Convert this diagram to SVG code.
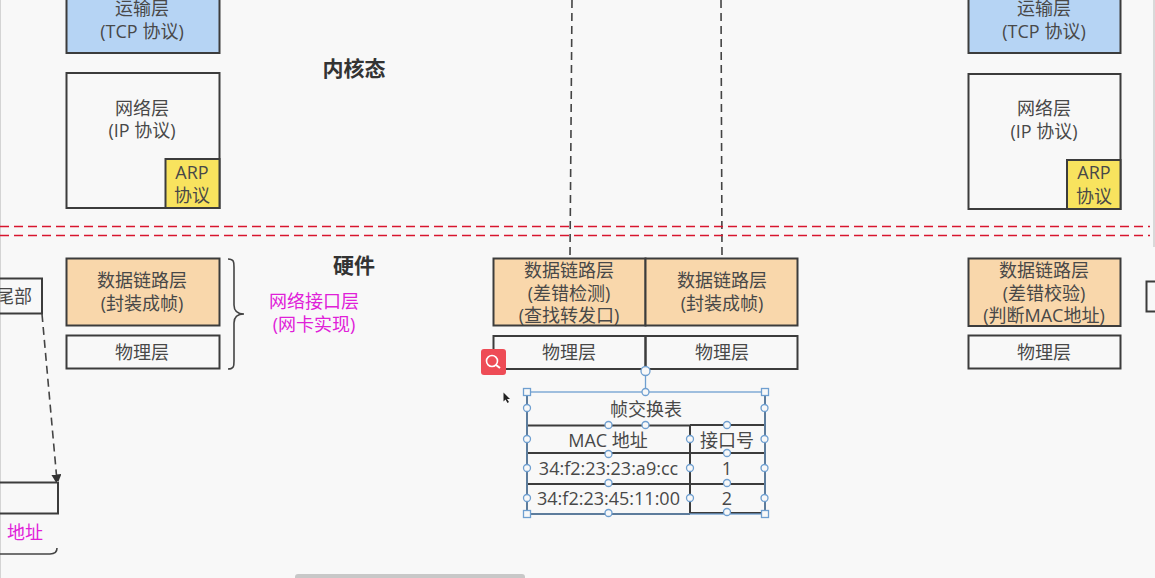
<svg xmlns="http://www.w3.org/2000/svg" width="1155" height="578" viewBox="0 0 1155 578">
<defs>
<marker id="arr" markerWidth="7" markerHeight="10" refX="6.5" refY="5" orient="auto" markerUnits="userSpaceOnUse"><path d="M0 0L10 5L0 10Z" fill="#333"/></marker>
</defs>
<style>
text{font-family:"Open Sans","Noto Sans CJK SC",sans-serif;font-size:18px;fill:#484848;text-anchor:middle}
.box{stroke:#3c3c3c;stroke-width:2;fill:none}
.o{fill:#f9d7ab}.b{fill:#b6d4f4}.y{fill:#f8e35e}
text.m{fill:#e020d8}
text.bold{font-weight:700;font-size:21px;fill:#333}
.dash{stroke:#444;stroke-width:1.6;stroke-dasharray:8 5;fill:none}
.red{stroke:#d8152e;stroke-width:1.6;stroke-dasharray:9 5;fill:none}
.brace{stroke:#444;stroke-width:1.6;fill:none}
.sel{stroke:#6f9fd0;stroke-width:1.3;fill:#f8f8f8}
.tl{stroke:#3c3c3c;stroke-width:2;fill:none}
</style>
<rect width="1155" height="578" fill="#f8f8f8"/>
<path d="M0.5 0V578" stroke="#d4d4d4" stroke-width="1"/>
<path d="M1154 0V247" stroke="#cfcfcf" stroke-width="1.5"/>
<g id="connectors">
<path class="dash" d="M572 0L570 256"/>
<path class="dash" d="M721 0L722 256"/>
<path class="red" d="M0 226.500H1150"/>
<path class="red" d="M0 235.500H1150"/>
<path class="dash" d="M42 314L57 481" marker-end="url(#arr)"/>
<path class="brace" d="M228 259c6 0 6 3 6 8v38c0 6 3 9 10 9c-7 0-10 3-10 9v38c0 5 0 8-6 8"/>
<path class="brace" d="M0 554H50c5 0 7-2 7-6"/>
</g>
<g id="left-transport"><rect class="box b" x="66.500" y="-10" width="153" height="63"/><text x="142" y="15">运输层</text><text x="142" y="38">(TCP 协议)</text></g>
<g id="left-network"><rect class="box" x="66.500" y="73" width="153" height="135"/><text x="142" y="115">网络层</text><text x="142" y="137">(IP 协议)</text></g>
<g id="left-arp"><rect class="box y" x="165.500" y="159" width="54" height="49"/><text x="192" y="179">ARP</text><text x="192" y="202">协议</text></g>
<g id="kernel"><text class="bold" x="354" y="76">内核态</text></g>
<g id="hardware"><text class="bold" x="354" y="273">硬件</text></g>
<g id="left-tail"><rect class="box" x="-20" y="278.500" width="62" height="35"/><text x="14" y="303">尾部</text></g>
<g id="left-link"><rect class="box o" x="66.500" y="258.500" width="153" height="67"/><text x="142" y="287">数据链路层</text><text x="142" y="310">(封装成帧)</text></g>
<g id="left-phy"><rect class="box" x="66.500" y="335.500" width="153" height="33"/><text x="142" y="359">物理层</text></g>
<g id="netif"><text class="m" x="314" y="308">网络接口层</text><text class="m" x="314" y="331">(网卡实现)</text></g>
<g id="bottom-left"><rect class="box" x="-20" y="482.500" width="78" height="31"/><text class="m" x="25" y="539">地址</text></g>
<g id="sw-link-1"><rect class="box o" x="493.500" y="258.500" width="152" height="67"/><text x="569" y="277">数据链路层</text><text x="569" y="300">(差错检测)</text><text x="569" y="322">(查找转发口)</text></g>
<g id="sw-link-2"><rect class="box o" x="645.500" y="258.500" width="152" height="67"/><text x="722" y="287">数据链路层</text><text x="722" y="310">(封装成帧)</text></g>
<g id="sw-phy-1"><rect class="box" x="493.500" y="336" width="152" height="33"/><text x="569" y="359">物理层</text></g>
<g id="sw-phy-2"><rect class="box" x="645.500" y="336" width="152" height="33"/><text x="722" y="359">物理层</text></g>
<g id="right-transport"><rect class="box b" x="968.500" y="-10" width="152" height="63"/><text x="1044" y="15">运输层</text><text x="1044" y="38">(TCP 协议)</text></g>
<g id="right-network"><rect class="box" x="968.500" y="74" width="152" height="135"/><text x="1044" y="115">网络层</text><text x="1044" y="138">(IP 协议)</text></g>
<g id="right-arp"><rect class="box y" x="1067" y="160" width="53.500" height="49"/><text x="1094" y="179">ARP</text><text x="1094" y="203">协议</text></g>
<g id="right-link"><rect class="box o" x="968.500" y="258.500" width="152" height="67.500"/><text x="1044" y="277">数据链路层</text><text x="1044" y="300">(差错校验)</text><text x="1044" y="322">(判断MAC地址)</text></g>
<g id="right-phy"><rect class="box" x="968.500" y="335.500" width="152" height="33"/><text x="1044" y="359">物理层</text></g>
<g id="right-edge"><path class="box" d="M1155 281.500H1146.500V311.500H1155"/></g>
<g id="search-icon"><rect x="481" y="349" width="25" height="26" rx="3" fill="#ee4c56"/><circle cx="492" cy="361" r="5.500" fill="none" stroke="#fff" stroke-width="1.600"/><path d="M496 365l4 3" stroke="#fff" stroke-width="2"/></g>
<g id="cursor"><path d="M503.500 392.500v9l2-2 2 3.500 1.500-1-2-3h3z" fill="#222"/></g>
<g id="table">
<path class="tl" d="M527 392V514H690M690 513H765V392M527 425.500H690M690 425H765M690 425V514M527 453H765M527 484H765"/>
<text x="646" y="416">帧交换表</text>
<text x="608" y="447">MAC 地址</text><text x="727" y="447">接口号</text>
<text x="608.500" y="475">34:f2:23:23:a9:cc</text><text x="727" y="475">1</text>
<text x="608.500" y="505">34:f2:23:45:11:00</text><text x="727" y="505">2</text>
</g>
<g id="selection">
<rect x="527" y="392" width="238" height="122" fill="none" stroke="#6f9fd0" stroke-width="1.300"/>
<path d="M645.500 369V392" stroke="#6f9fd0" stroke-width="1.300"/>
<circle class="sel" cx="645.500" cy="371" r="4.500"/>
<g class="sel"><rect x="523.500" y="388.500" width="7" height="7"/><rect x="761.500" y="388.500" width="7" height="7"/><rect x="523.500" y="510.500" width="7" height="7"/><rect x="761.500" y="510.500" width="7" height="7"/>
<circle cx="645.500" cy="392" r="3.500"/><circle cx="527" cy="408" r="3.500"/><circle cx="764.500" cy="408" r="3.500"/>
<circle cx="608.500" cy="425" r="3.500"/><circle cx="645.500" cy="425" r="3.500"/><circle cx="727" cy="425" r="3.500"/>
<circle cx="527" cy="439" r="3.500"/><circle cx="690" cy="439" r="3.500"/><circle cx="764.500" cy="439" r="3.500"/>
<circle cx="608.500" cy="454" r="3.500"/><circle cx="727" cy="453" r="3.500"/>
<circle cx="527" cy="468" r="3.500"/><circle cx="690" cy="468" r="3.500"/><circle cx="764.500" cy="468" r="3.500"/>
<circle cx="608.500" cy="483" r="3.500"/><circle cx="727" cy="483" r="3.500"/>
<circle cx="527" cy="498" r="3.500"/><circle cx="690" cy="498" r="3.500"/><circle cx="764.500" cy="498" r="3.500"/>
<circle cx="608.500" cy="513" r="3.500"/><circle cx="727" cy="512" r="3.500"/></g>
</g>
<g id="scrollbar"><rect x="295" y="574" width="230" height="6" rx="3" fill="#c8c8c8"/></g>
</svg>
